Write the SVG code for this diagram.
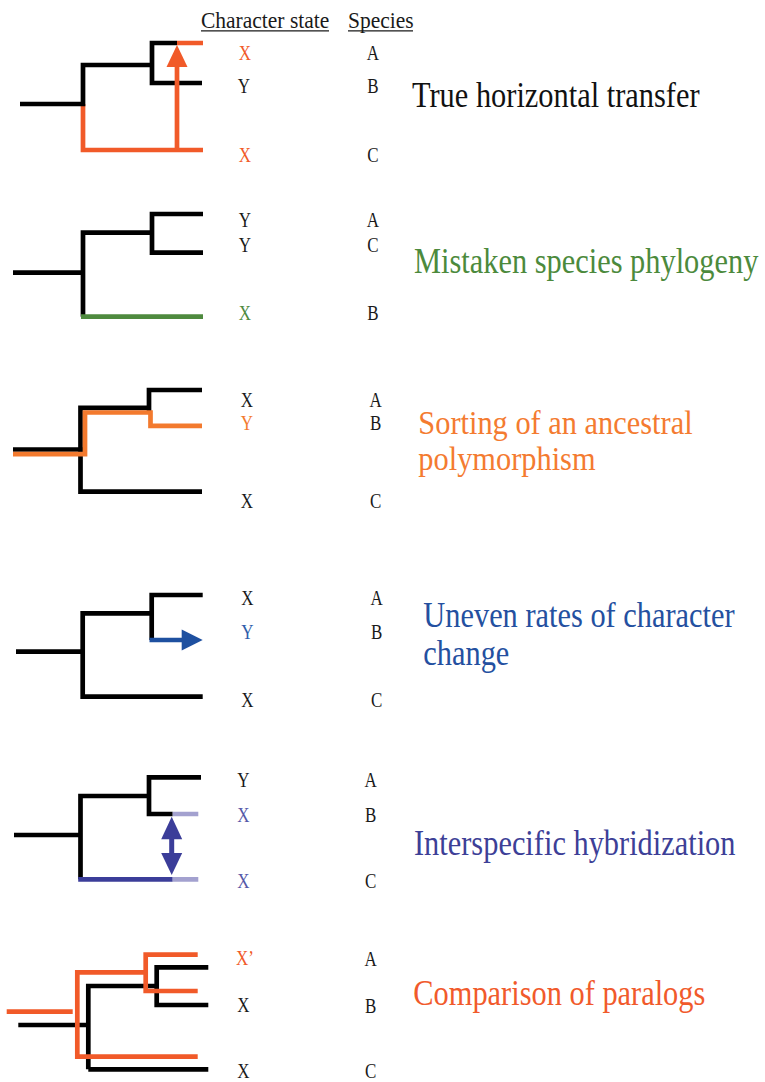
<svg xmlns="http://www.w3.org/2000/svg" width="765" height="1082" viewBox="0 0 765 1082">
<style>
text{font-family:"Liberation Serif","Times New Roman",serif;}
.t{font-size:30.4px;}
.l{font-size:17px;text-anchor:middle;fill:#1a1a1a;}
.h{font-size:21.5px;fill:#1a1a1a;}
.k{fill:none;stroke:#000;stroke-width:4.7;stroke-linejoin:miter;stroke-linecap:butt;}
.r{fill:none;stroke:#F15A29;stroke-width:4.7;stroke-linejoin:miter;}
.o{fill:none;stroke:#F37A2E;stroke-width:4.7;stroke-linejoin:miter;}
.g{fill:none;stroke:#4E8A3E;stroke-width:4.7;}
.b{fill:none;stroke:#1E50A0;stroke-width:4.7;}
.p{fill:none;stroke:#3B3D99;stroke-width:4.7;}
.lp{fill:none;stroke:#A3A1CF;stroke-width:4.7;}
</style>
<rect width="765" height="1082" fill="#fff"/>
<g id="header">
<text class="h" transform="translate(201 27.7) scale(1 1.1)">Character state</text>
<text class="h" transform="translate(348 27.7) scale(1 1.1)">Species</text>
<line x1="201" y1="30.8" x2="329" y2="30.8" stroke="#1a1a1a" stroke-width="1.3"/>
<line x1="348" y1="30.8" x2="413" y2="30.8" stroke="#1a1a1a" stroke-width="1.3"/>
</g>
<g id="connectors">
<!-- panel 1 -->
<path class="r" d="M83,104 V150 H203 M177,43 H203"/>
<path class="k" d="M20,104 H83 V65 H152 M177,43 H152 V83 H202"/>
<line x1="177" y1="150" x2="177" y2="64" stroke="#F15A29" stroke-width="4.7"/>
<polygon points="166.5,67 187.5,67 177,45" fill="#F15A29"/>
<!-- panel 2 -->
<path class="k" d="M13,272.7 H83 M83,316.7 V232.7 H152 M203,214 H152 V252.7 H203"/>
<path class="g" d="M81,316.7 H203"/>
<!-- panel 3 -->
<path class="k" d="M13,449.5 H83 M202,390 H149 V411 M149,407.8 H80.5 V491.7 H202"/>
<path class="o" d="M13,454.2 H85 V412.5 H150.5 V425.8 H202"/>
<!-- panel 4 -->
<path class="k" d="M16,651.7 H82.7 M202.7,595 H151.7 V640 M151.7,613.3 H82.7 V696.7 H202.7"/>
<line class="b" x1="149.5" y1="640" x2="183" y2="640"/>
<polygon points="181.7,629.5 202.7,640 181.7,650.5" fill="#1E50A0"/>
<!-- panel 5 -->
<path class="k" d="M14,835 H80.5 M201,777.3 H149 V814 H172.7 M149,796 H80.5 V879.3"/>
<path class="p" d="M78.2,879.3 H172.7"/>
<path class="lp" d="M172.7,814 H198.3 M172.7,879.3 H198.3"/>
<line x1="171.7" y1="837" x2="171.7" y2="855" stroke="#3B3D99" stroke-width="5"/>
<polygon points="161.2,839.3 171.7,816.7 182.2,839.3" fill="#3B3D99"/>
<polygon points="161.2,853 171.7,875 182.2,853" fill="#3B3D99"/>
<!-- panel 6 -->
<path class="k" d="M18.3,1025 H88.3 M88.3,1069.3 V986 H156.7 M208.3,967.3 H156.7 V1005 H208.3 M88.3,1069.3 H208.3"/>
<path class="r" d="M6.7,1011.7 H72.7 M197.7,954.7 H145.7 V991 H197.7 M145.7,972.3 H77.3 V1056.7 H197.7"/>
</g>
<g id="panel1">
<text class="l" style="fill:#F15A29" transform="translate(245 60) scale(1 1.2)">X</text>
<text class="l" transform="translate(244 93) scale(1 1.2)">Y</text>
<text class="l" style="fill:#F15A29" transform="translate(245 161.7) scale(1 1.2)">X</text>
<text class="l" transform="translate(373 59.5) scale(1 1.2)">A</text>
<text class="l" transform="translate(373 93.3) scale(1 1.2)">B</text>
<text class="l" transform="translate(373 161.7) scale(1 1.2)">C</text>
<text class="t" fill="#111" transform="translate(412 106.7) scale(1 1.15)">True horizontal transfer</text>
</g>
<g id="panel2">
<text class="l" transform="translate(245 227.3) scale(1 1.2)">Y</text>
<text class="l" transform="translate(245 251.7) scale(1 1.2)">Y</text>
<text class="l" style="fill:#4E8A3E" transform="translate(245 320) scale(1 1.2)">X</text>
<text class="l" transform="translate(373 227.3) scale(1 1.2)">A</text>
<text class="l" transform="translate(373 251.7) scale(1 1.2)">C</text>
<text class="l" transform="translate(373 320) scale(1 1.2)">B</text>
<text class="t" fill="#4C8A3C" transform="translate(414 273) scale(1 1.15)">Mistaken species phylogeny</text>
</g>
<g id="panel3">
<text class="l" transform="translate(247 406.7) scale(1 1.2)">X</text>
<text class="l" style="fill:#F37A2E" transform="translate(247 430) scale(1 1.2)">Y</text>
<text class="l" transform="translate(247 508) scale(1 1.2)">X</text>
<text class="l" transform="translate(375.7 406.7) scale(1 1.2)">A</text>
<text class="l" transform="translate(375.7 430) scale(1 1.2)">B</text>
<text class="l" transform="translate(375.7 508) scale(1 1.2)">C</text>
<text class="t" fill="#F47B30" transform="translate(418.3 433.5) scale(1 1.12)">Sorting of an ancestral</text>
<text class="t" fill="#F47B30" transform="translate(418.3 470) scale(1 1.12)">polymorphism</text>
</g>
<g id="panel4">
<text class="l" transform="translate(247.3 605) scale(1 1.2)">X</text>
<text class="l" style="fill:#2F5DAA" transform="translate(247.3 639.3) scale(1 1.2)">Y</text>
<text class="l" transform="translate(247.3 706.7) scale(1 1.2)">X</text>
<text class="l" transform="translate(376.7 605) scale(1 1.2)">A</text>
<text class="l" transform="translate(376.7 639.3) scale(1 1.2)">B</text>
<text class="l" transform="translate(376.7 706.7) scale(1 1.2)">C</text>
<text class="t" fill="#2450A0" transform="translate(423.3 626.7) scale(1 1.15)">Uneven rates of character</text>
<text class="t" fill="#2450A0" transform="translate(423.3 665) scale(1 1.15)">change</text>
</g>
<g id="panel5">
<text class="l" transform="translate(243.3 787.3) scale(1 1.2)">Y</text>
<text class="l" style="fill:#5558A8" transform="translate(243.3 821.7) scale(1 1.2)">X</text>
<text class="l" style="fill:#5558A8" transform="translate(243.3 888.3) scale(1 1.2)">X</text>
<text class="l" transform="translate(370.7 787.3) scale(1 1.2)">A</text>
<text class="l" transform="translate(370.7 821.7) scale(1 1.2)">B</text>
<text class="l" transform="translate(370.7 888.3) scale(1 1.2)">C</text>
<text class="t" fill="#3D3F97" transform="translate(414 855) scale(1 1.15)">Interspecific hybridization</text>
</g>
<g id="panel6">
<text class="l" style="fill:#F15A29;text-anchor:start" transform="translate(236 965) scale(1 1.2)">X’</text>
<text class="l" transform="translate(243.3 1011.7) scale(1 1.2)">X</text>
<text class="l" transform="translate(243.3 1078) scale(1 1.2)">X</text>
<text class="l" transform="translate(370.7 966) scale(1 1.2)">A</text>
<text class="l" transform="translate(370.7 1012.7) scale(1 1.2)">B</text>
<text class="l" transform="translate(370.7 1078) scale(1 1.2)">C</text>
<text class="t" fill="#F15A2B" transform="translate(413.3 1005) scale(1 1.15)">Comparison of paralogs</text>
</g>
</svg>
